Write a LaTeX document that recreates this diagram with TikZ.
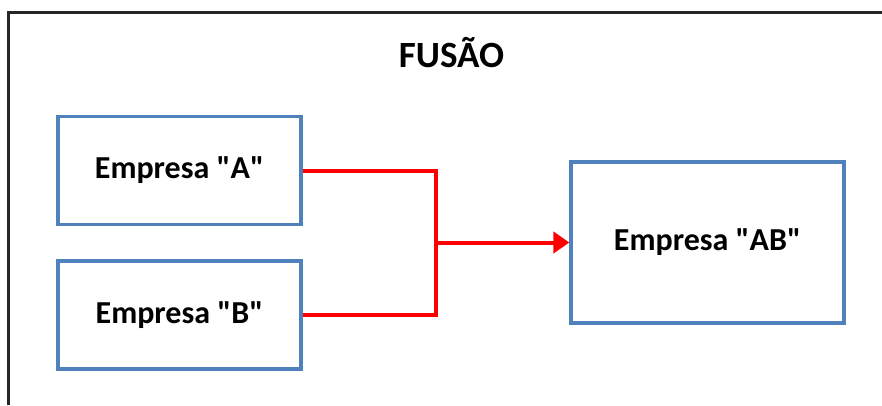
\documentclass[tikz,border=0pt]{standalone}
\usepackage{fontspec}
\setmainfont{Carlito}
\usepackage{xcolor}
\usetikzlibrary{arrows.meta, positioning}
\definecolor{boxBlue}{RGB}{79,129,189}
\newcommand{\qt}{\textquotedbl}
\tikzset{
    firmBox/.style={draw=boxBlue, line width=3.2pt, fill=white, minimum width=243pt, minimum height=108pt, inner sep=0pt,
        font=\fontsize{32}{38}\selectfont\bfseries},
    mergeLine/.style={draw=red, line width=4pt}
}

\begin{document}
\begin{tikzpicture}[x=1pt, y=1pt, >={Triangle[length=16pt, width=21pt]}]
    \useasboundingbox (0,0) rectangle (882,405);
    \draw[line width=2.5pt, black!85] (8.5,0) |- (882,392.5);
    \node[anchor=base, font=\fontsize{37}{44}\selectfont\bfseries] (Title) at (451.5,337) {FUSÃO};
    \node[firmBox] (FirmA) at (179.5,234.5) {Empresa \qt A\qt};
    \node[firmBox] (FirmB) at (179.5,90) {Empresa \qt B\qt};
    \node[firmBox, minimum width=273pt, minimum height=161pt] (FirmAB) at (707.5,162.5) {Empresa \qt AB\qt};
    \coordinate (Merge) at (436,162.5);
    \draw[mergeLine] (FirmA.east) -| (Merge);
    \draw[mergeLine] (FirmB.east) -| (Merge);
    \draw[mergeLine, ->] (Merge) -- (FirmAB.west);
\end{tikzpicture}
\end{document}
